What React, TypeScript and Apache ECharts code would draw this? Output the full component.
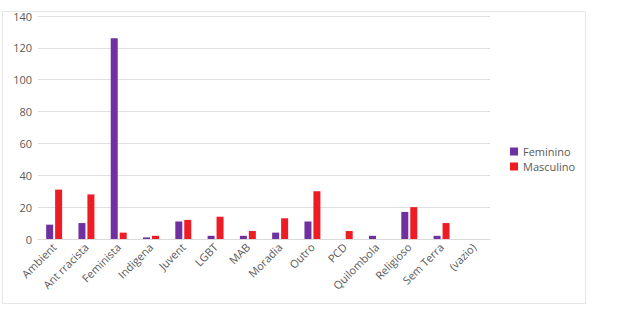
import React, { useEffect, useRef } from "react";
import * as echarts from "echarts";

const categories = ["Ambient", "Ant rracista", "Feminista", "Indigena", "Juvent", "LGBT", "MAB", "Moradia", "Outro", "PCD", "Quilombola", "Religioso", "Sem Terra", "(vazio)"];
const feminino = [9, 10, 126, 1, 11, 2, 2, 4, 11, 0, 2, 17, 2, 0];
const masculino = [31, 28, 4, 2, 12, 14, 5, 13, 30, 5, 0, 20, 10, 0];

export default function App() {
  const ref = useRef<HTMLDivElement>(null);
  useEffect(() => {
    const chart = echarts.init(ref.current!, undefined, { renderer: "svg" });
    const font = "'Open Sans', 'Noto Sans', sans-serif";
    chart.setOption({
      animation: false,
      textStyle: { fontFamily: font },
      graphic: [
        {
          type: "rect",
          shape: { x: 2.5, y: 11.5, width: 583, height: 292 },
          style: { fill: "none", stroke: "#e6e6e6", lineWidth: 1 },
          silent: true,
        },
      ],
      grid: { left: 38, right: 127, top: 16, bottom: 71 },
      legend: {
        orient: "vertical",
        left: 505,
        top: 141,
        itemWidth: 8,
        itemHeight: 8,
        itemGap: 4,
        icon: "rect",
        textStyle: { fontSize: 11, color: "#595959", fontFamily: font },
        data: ["Feminino", "Masculino"],
      },
      xAxis: {
        type: "category",
        data: categories,
        axisTick: { show: false },
        axisLine: { lineStyle: { color: "#d9d9d9" } },
        axisLabel: { rotate: 45, fontSize: 11, color: "#595959", interval: 0, margin: 6, fontFamily: font },
      },
      yAxis: {
        type: "value",
        min: 0,
        max: 140,
        interval: 20,
        axisLabel: { fontSize: 11, color: "#595959", margin: 6, fontFamily: font },
        splitLine: { lineStyle: { color: "#e0e0e0" } },
        axisLine: { show: false },
        axisTick: { show: false },
      },
      series: [
        { name: "Feminino", type: "bar", data: feminino, barWidth: 7, barGap: "28%", itemStyle: { color: "#7030A0" } },
        { name: "Masculino", type: "bar", data: masculino, barWidth: 7, itemStyle: { color: "#EE1C25" } },
      ],
    });
    return () => chart.dispose();
  }, []);
  return <div ref={ref} style={{ position: "fixed", left: 0, top: 0, width: 617, height: 310, background: "#fff" }} />;
}
